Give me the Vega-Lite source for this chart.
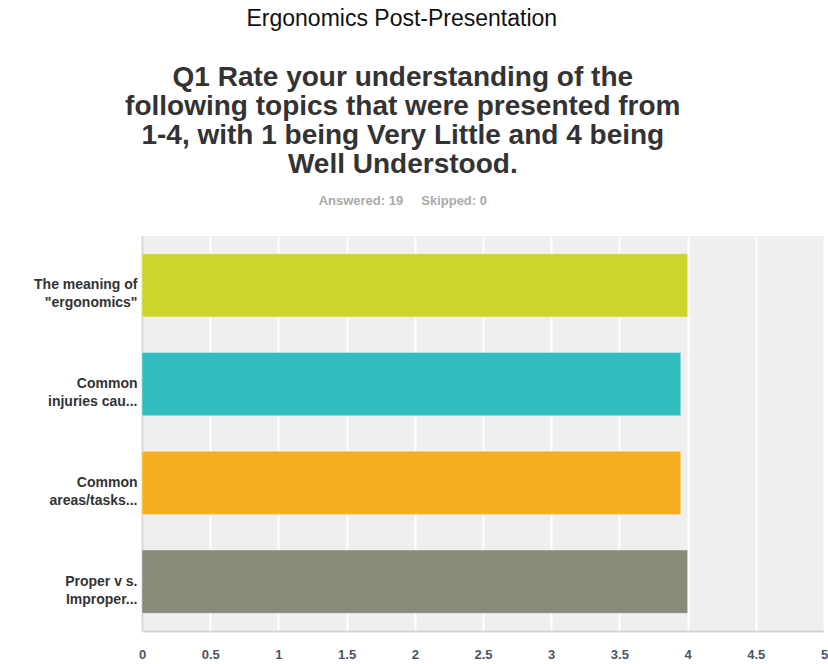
{
  "$schema": "https://vega.github.io/schema/vega-lite/v6.json",
  "padding": {"left": 0, "top": 8, "right": 0, "bottom": 0},
  "background": "white",
  "title": {
    "text": "Ergonomics Post-Presentation",
    "fontSize": 23,
    "font": "Liberation Sans",
    "fontWeight": "normal",
    "color": "#111111",
    "anchor": "middle",
    "frame": "bounds",
    "offset": 33,
    "dx": -12
  },
  "config": {
    "view": {"fill": "#efefef", "stroke": null},
    "font": "Liberation Sans"
  },
  "vconcat": [
    {
      "width": 682,
      "height": 395,
      "title": {
        "text": ["Q1 Rate your understanding of the", "following topics that were presented from", "1-4, with 1 being Very Little and 4 being", "Well Understood."],
        "subtitle": "Answered: 19\u00a0\u00a0\u00a0\u00a0\u00a0Skipped: 0",
        "fontSize": 28,
        "lineHeight": 29,
        "fontWeight": "bold",
        "font": "Liberation Sans",
        "color": "#333333",
        "subtitleFontSize": 13,
        "subtitleFontWeight": "bold",
        "subtitleColor": "#aaaaaa",
        "subtitlePadding": 16,
        "subtitleFont": "Liberation Sans",
        "anchor": "middle",
        "frame": "bounds",
        "offset": 28,
        "dx": -11
      },
      "data": {
        "values": [
          {"topic": "The meaning of|\"ergonomics\"", "order": 1, "value": 4.0},
          {"topic": "Common|injuries cau...", "order": 2, "value": 3.95},
          {"topic": "Common|areas/tasks...", "order": 3, "value": 3.95},
          {"topic": "Proper v s.|Improper...", "order": 4, "value": 4.0}
        ]
      },
      "mark": {"type": "bar", "stroke": "#ffffff", "strokeOpacity": 0.35, "strokeWidth": 1},
      "encoding": {
        "y": {
          "field": "topic",
          "type": "nominal",
          "sort": {"field": "order"},
          "scale": {"paddingInner": 0.36, "paddingOuter": 0.18},
          "axis": {
            "title": null,
            "ticks": false,
            "domain": true,
            "domainColor": "#d6d6d6",
            "domainWidth": 2,
            "labelExpr": "split(datum.label, '|')",
            "labelFont": "Liberation Sans",
            "labelFontSize": 14,
            "labelFontWeight": "bold",
            "labelColor": "#333333",
            "labelLineHeight": 18,
            "labelPadding": 5,
            "minExtent": 142,
            "maxExtent": 142
          }
        },
        "x": {
          "field": "value",
          "type": "quantitative",
          "scale": {"domain": [0, 5], "nice": false},
          "axis": {
            "title": null,
            "values": [0, 0.5, 1, 1.5, 2, 2.5, 3, 3.5, 4, 4.5, 5],
            "format": "~g",
            "ticks": false,
            "domain": true,
            "domainColor": "#d6d6d6",
            "domainWidth": 2,
            "grid": true,
            "gridColor": "#ffffff",
            "gridWidth": 2,
            "labelFont": "Liberation Sans",
            "labelFontSize": 13,
            "labelFontWeight": "bold",
            "labelColor": "#4a5468",
            "labelPadding": 17,
            "labelFlush": false
          }
        },
        "color": {
          "field": "topic",
          "type": "nominal",
          "sort": {"field": "order"},
          "scale": {"range": ["#cdd42a", "#33bdbf", "#f7ae1f", "#898a7a"]},
          "legend": null
        }
      }
    }
  ]
}
